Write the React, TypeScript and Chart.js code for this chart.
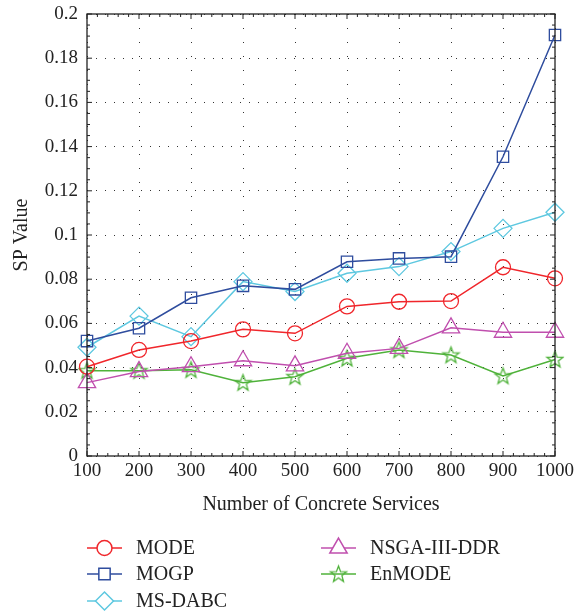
import React, { useEffect, useRef } from "react";
import { Chart, registerables } from "chart.js";
import { drawPoint } from "chart.js/helpers";

Chart.register(...registerables);

const categories = ["100", "200", "300", "400", "500", "600", "700", "800", "900", "1000"];
const modeValues = [0.0404, 0.048, 0.052, 0.0573, 0.0555, 0.0677, 0.0698, 0.0701, 0.0854, 0.0804];
const mogpValues = [0.052, 0.0578, 0.0716, 0.077, 0.0754, 0.0879, 0.0894, 0.0902, 0.1354, 0.1905];
const msdabcValues = [0.0492, 0.0633, 0.054, 0.0789, 0.0744, 0.0827, 0.0857, 0.0925, 0.103, 0.1103];
const nsgaValues = [0.0332, 0.0382, 0.0404, 0.0431, 0.0408, 0.0465, 0.0487, 0.058, 0.056, 0.056];
const enmodeValues = [0.0386, 0.0386, 0.039, 0.0332, 0.0359, 0.0442, 0.048, 0.0457, 0.0362, 0.0437];
const yTicks = [0, 0.02, 0.04, 0.06, 0.08, 0.1, 0.12, 0.14, 0.16, 0.18, 0.2];

const FONT = "'Liberation Serif', 'DejaVu Serif', serif";

function makeStar(color: string, outer: number) {
  const s = Math.ceil(outer * 2 + 4);
  const c = document.createElement("canvas");
  c.width = s;
  c.height = s;
  const ctx = c.getContext("2d")!;
  const cx = s / 2, cy = s / 2 + 0.5;
  const inner = outer * 0.42;
  ctx.beginPath();
  for (let i = 0; i < 10; i++) {
    const r = i % 2 === 0 ? outer : inner;
    const a = -Math.PI / 2 + (i * Math.PI) / 5;
    const x = cx + r * Math.cos(a);
    const y = cy + r * Math.sin(a);
    if (i === 0) ctx.moveTo(x, y);
    else ctx.lineTo(x, y);
  }
  ctx.closePath();
  ctx.strokeStyle = color;
  ctx.lineWidth = 1.3;
  ctx.stroke();
  return c;
}

export default function App() {
  const ref = useRef<HTMLCanvasElement | null>(null);

  useEffect(() => {
    document.body.style.margin = "0";
    const canvas = ref.current;
    if (!canvas) return;

    const star = makeStar("#4fb23a", 8.5);

    const series = [
      { label: "MODE", data: modeValues, color: "#f0262b", style: "circle", radius: 7.5 },
      { label: "MOGP", data: mogpValues, color: "#2f4d9e", style: "rect", radius: 8 },
      { label: "MS-DABC", data: msdabcValues, color: "#5ec8e0", style: "rectRot", radius: 9 },
      { label: "NSGA-III-DDR", data: nsgaValues, color: "#c04fae", style: "triangle", radius: 10 },
      { label: "EnMODE", data: enmodeValues, color: "#4fb23a", style: star, radius: 8 },
    ];

    const framePlugin = {
      id: "frame",
      afterDraw(chart: any) {
        const { ctx, chartArea } = chart;
        const { left, right, top, bottom } = chartArea;
        const xs = chart.scales.x;
        const ys = chart.scales.y;
        ctx.save();
        ctx.strokeStyle = "#222";
        ctx.lineWidth = 1.3;
        ctx.strokeRect(left, top, right - left, bottom - top);
        ctx.lineWidth = 1;
        ctx.beginPath();
        const n = categories.length;
        for (let i = 0; i < n; i++) {
          const px = xs.getPixelForValue(i);
          ctx.moveTo(px, bottom); ctx.lineTo(px, bottom - 5);
          ctx.moveTo(px, top); ctx.lineTo(px, top + 5);
          if (i < n - 1) {
            const nx = xs.getPixelForValue(i + 1);
            for (let k = 1; k < 5; k++) {
              const mx = px + ((nx - px) * k) / 5;
              ctx.moveTo(mx, bottom); ctx.lineTo(mx, bottom - 3);
              ctx.moveTo(mx, top); ctx.lineTo(mx, top + 3);
            }
          }
        }
        for (let i = 0; i < yTicks.length; i++) {
          const py = ys.getPixelForValue(yTicks[i]);
          ctx.moveTo(left, py); ctx.lineTo(left + 5, py);
          ctx.moveTo(right, py); ctx.lineTo(right - 5, py);
          if (i < yTicks.length - 1) {
            const ny = ys.getPixelForValue(yTicks[i + 1]);
            for (let k = 1; k < 4; k++) {
              const my = py + ((ny - py) * k) / 4;
              ctx.moveTo(left, my); ctx.lineTo(left + 3, my);
              ctx.moveTo(right, my); ctx.lineTo(right - 3, my);
            }
          }
        }
        ctx.stroke();

        const rows = [548, 574, 601];
        const cols = [left, left + 234];
        ctx.font = `20px ${FONT}`;
        ctx.textBaseline = "middle";
        ctx.textAlign = "left";
        series.forEach((s, i) => {
          const col = i < 3 ? 0 : 1;
          const row = i < 3 ? i : i - 3;
          const x0 = cols[col];
          const y0 = rows[row];
          ctx.strokeStyle = s.color;
          ctx.lineWidth = 1.5;
          ctx.beginPath();
          ctx.moveTo(x0, y0);
          ctx.lineTo(x0 + 35, y0);
          ctx.stroke();
          ctx.fillStyle = "#fff";
          drawPoint(ctx, { pointStyle: s.style as any, radius: s.radius, rotation: 0, borderWidth: 1.3 } as any, x0 + 17.5, y0);
          ctx.fillStyle = "#222";
          ctx.fillText(s.label, x0 + 49, y0 + 1);
        });
        ctx.restore();
      },
    };

    const chart = new Chart(canvas, {
      type: "line",
      data: {
        labels: categories,
        datasets: series.map((s) => ({
          label: s.label,
          data: s.data,
          borderColor: s.color,
          backgroundColor: "rgba(255,255,255,0)",
          pointBorderColor: s.color,
          pointBackgroundColor: "rgba(255,255,255,0)",
          borderWidth: 1.5,
          pointBorderWidth: 1.3,
          pointStyle: s.style as any,
          pointRadius: s.radius,
          tension: 0,
          fill: false,
        })),
      },
      options: {
        responsive: false,
        animation: false,
        layout: { padding: { left: 0, right: 21, top: 14, bottom: 93 } },
        plugins: {
          legend: { display: false },
          tooltip: { enabled: false },
        },
        scales: {
          x: {
            type: "category",
            offset: false,
            grid: {
              display: true,
              color: "#333",
              lineWidth: 1,
              drawTicks: false,
            },
            border: { display: false, dash: [1, 13] } as any,
            ticks: {
              color: "#222",
              font: { family: FONT, size: 19 },
              padding: 4,
              maxRotation: 0,
              autoSkip: false,
            },
            title: {
              display: true,
              text: "Number of Concrete Services",
              color: "#222",
              font: { family: FONT, size: 20 },
              padding: { top: 4, bottom: 4 },
            },
            afterFit(scale: any) {
              scale.height = 65;
              scale.paddingLeft = 0;
              scale.paddingRight = 0;
            },
          },
          y: {
            min: 0,
            max: 0.2,
            grid: {
              display: true,
              color: "#333",
              lineWidth: 1,
              drawTicks: false,
            },
            border: { display: false, dash: [1, 8] } as any,
            ticks: {
              stepSize: 0.02,
              color: "#222",
              font: { family: FONT, size: 19 },
              padding: 9,
              callback: (v: any) => String(Number(Number(v).toFixed(2))),
            },
            title: {
              display: true,
              text: "SP Value",
              color: "#222",
              font: { family: FONT, size: 20 },
              padding: { top: 10, bottom: 0 },
            },
            afterFit(scale: any) {
              scale.width = 87;
              scale.paddingTop = 0;
              scale.paddingBottom = 0;
            },
          },
        },
      },
      plugins: [framePlugin],
    });

    return () => chart.destroy();
  }, []);

  return (
    <div style={{ width: 576, height: 614 }}>
      <canvas ref={ref} width={576} height={614} style={{ width: 576, height: 614, display: "block" }} />
    </div>
  );
}
